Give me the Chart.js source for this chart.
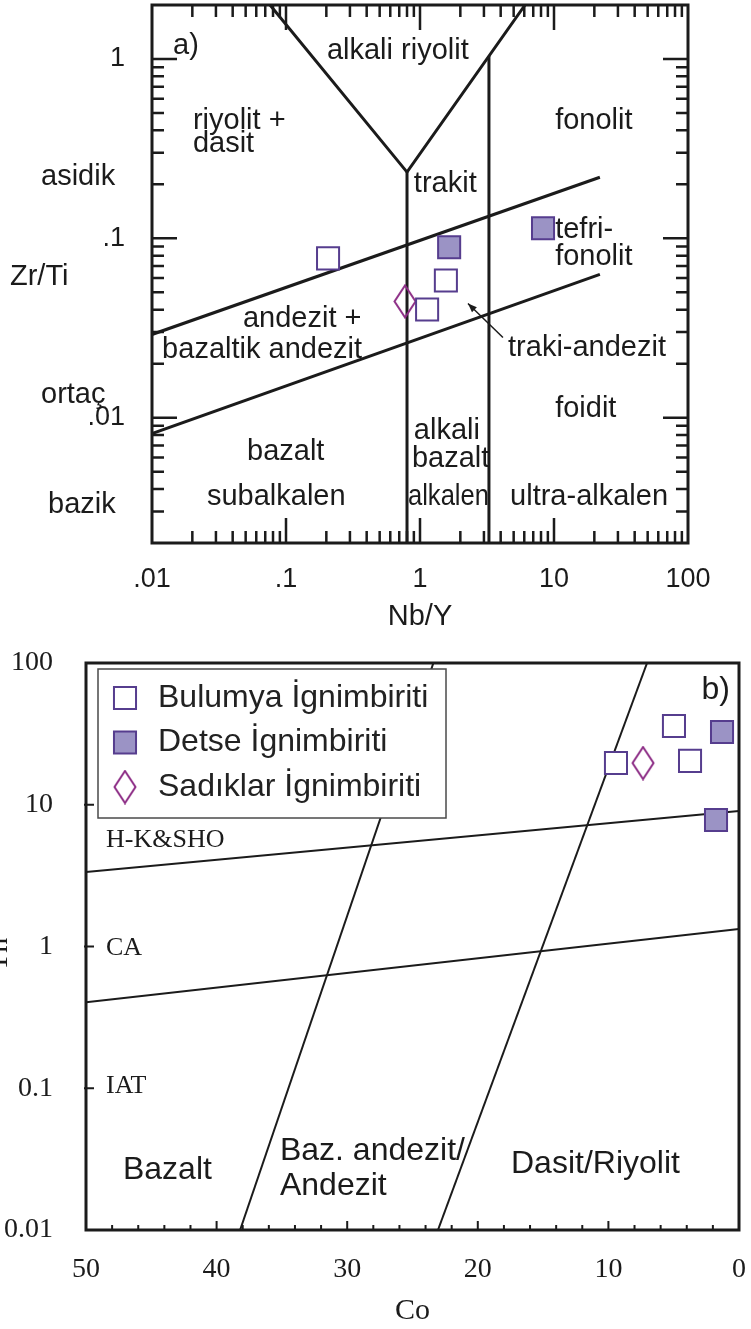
<!DOCTYPE html>
<html>
<head>
<meta charset="utf-8">
<script src="https://cdn.jsdelivr.net/npm/chart.js@4.4.1/dist/chart.umd.min.js"></script>
<style>
  html, body { margin: 0; padding: 0; background: #fff; }
  canvas { display: block; }
</style>
</head>
<body>
<canvas id="zrti" width="751" height="640"></canvas>
<canvas id="thco" width="751" height="689"></canvas>
<script>
// ---- a) Zr/Ti - Nb/Y ----
const bulumyaA  = [{x: 0.206, y: 0.0773}, {x: 1.56, y: 0.0582}, {x: 1.13, y: 0.0401}];
const detseA    = [{x: 1.65, y: 0.0891}, {x: 8.28, y: 0.1137}];
const sadiklarA = [{x: 0.773, y: 0.0445}];

// field boundaries
const vLine      = [{x: 0.076, y: 2}, {x: 0.80, y: 0.234}, {x: 6.08, y: 2}];
const alkaliLine = [{x: 0.80, y: 0.234}, {x: 0.80, y: 0.002}];
const ultraLine  = [{x: 3.27, y: 1.04}, {x: 3.27, y: 0.002}];
const upperLine  = [{x: 0.01, y: 0.0291}, {x: 22, y: 0.219}];
const lowerLine  = [{x: 0.01, y: 0.00814}, {x: 22, y: 0.0629}];

const nbyTicks  = [0.01, 0.1, 1, 10, 100];
const zrtiTicks = [0.01, 0.1, 1];

// [text, Nb/Y, Zr/Ti] left / baseline
const fieldsA = [
  ['alkali riyolit', 0.202, 1.0],
  ['riyolit +', 0.0202, 0.406],
  ['dasit', 0.0202, 0.302],
  ['fonolit', 10.2, 0.406],
  ['trakit', 0.90, 0.181],
  ['tefri-', 10.2, 0.101],
  ['fonolit', 10.2, 0.0707],
  ['andezit +', 0.0477, 0.0322],
  ['bazaltik andezit', 0.0119, 0.0214],
  ['traki-andezit', 4.54, 0.0222],
  ['foidit', 10.2, 0.01014],
  ['alkali', 0.90, 0.00763],
  ['bazalt', 0.871, 0.00532],
  ['bazalt', 0.0512, 0.00582],
  ['subalkalen', 0.0257, 0.00327],
  ['alkalen', 0.813, 0.00327, 81],
  ['ultra-alkalen', 4.70, 0.00327]
];
const sideA = [['asidik', 41, 185], ['Zr/Ti', 10, 285], ['ortaç', 41, 403], ['bazik', 48, 513]];
const arrowA = [{x: 4.16, y: 0.0280}, {x: 2.28, y: 0.0433}];

// ---- b) Th - Co ----
const bulumyaB  = [{x: 9.42, y: 19.7}, {x: 4.98, y: 35.9}, {x: 3.75, y: 20.4}];
const detseB    = [{x: 1.3, y: 32.6}, {x: 1.76, y: 7.8}];
const sadiklarB = [{x: 7.35, y: 19.7}];

const hkLine     = [{x: 50, y: 3.36}, {x: 0, y: 9.03}];
const caLine     = [{x: 50, y: 0.405}, {x: 0, y: 1.33}];
const basLine    = [{x: 38.2, y: 0.01}, {x: 23.4, y: 100}];
const daciteLine = [{x: 23.05, y: 0.01}, {x: 7.04, y: 100}];

const coTicks = [50, 40, 30, 20, 10, 0];
const thTicks = [0.01, 0.1, 1, 10, 100];

const seriesNames = ['Bulumya İgnimbiriti', 'Detse İgnimbiriti', 'Sadıklar İgnimbiriti'];
const seriesTags  = [['H-K&SHO', 48.47, 5.03], ['CA', 48.47, 0.871], ['IAT', 48.47, 0.0927]];
const fieldsB = [
  ['Bazalt', 47.17, 0.0229],
  ['Baz. andezit/', 35.15, 0.0312],
  ['Andezit', 35.15, 0.01766],
  ['Dasit/Riyolit', 17.46, 0.0252]
];

const INK = '#1b1b1b';
const PURPLE = '#563d8e';
const LILAC = '#9b93c5';
const MAGENTA = '#8c2c85';
const SANS = '"Liberation Sans", Arial, sans-serif';
const SERIF = '"Liberation Serif", "Times New Roman", serif';

// tall open diamond
function diamond() {
  const c = document.createElement('canvas');
  c.width = 24; c.height = 35;
  const g = c.getContext('2d');
  g.strokeStyle = MAGENTA; g.lineWidth = 2;
  g.beginPath();
  g.moveTo(12, 1.5); g.lineTo(22.5, 17.5); g.lineTo(12, 33.5); g.lineTo(1.5, 17.5);
  g.closePath(); g.stroke();
  return c;
}
const diamondImg = diamond();

function markerSets(bul, det, sad) {
  return [
    { label: seriesNames[0], data: bul, pointStyle: 'rect', pointRadius: 15.6,
      pointBorderWidth: 2, pointBorderColor: PURPLE, pointBackgroundColor: '#fff',
      borderColor: PURPLE, backgroundColor: '#fff', showLine: false },
    { label: seriesNames[1], data: det, pointStyle: 'rect', pointRadius: 15.6,
      pointBorderWidth: 2, pointBorderColor: PURPLE, pointBackgroundColor: LILAC,
      borderColor: PURPLE, backgroundColor: LILAC, showLine: false },
    { label: seriesNames[2], data: sad, pointStyle: diamondImg, pointRadius: 16,
      pointBorderWidth: 0, borderColor: MAGENTA, backgroundColor: 'rgba(0,0,0,0)', showLine: false }
  ];
}

function boundary(data, width) {
  return { label: '', data, showLine: true, borderColor: INK, borderWidth: width,
    pointRadius: 0, borderJoinStyle: 'miter', fill: false };
}

// fixed axis box, no extra room for end labels
function fixSize(w, h) {
  return s => {
    if (w) s.width = w;
    if (h) s.height = h;
    s.paddingTop = s.paddingBottom = s.paddingLeft = s.paddingRight = 0;
  };
}

function logSteps(min, max) {
  const out = [];
  for (let e = Math.floor(Math.log10(min)); e <= Math.ceil(Math.log10(max)); e++) {
    for (let m = 1; m <= 9; m++) {
      const v = parseFloat((m * Math.pow(10, e)).toPrecision(6));
      if (v > min * 1.0001 && v < max * 0.9999) out.push(v);
    }
  }
  return out;
}
const isDecade = v => Math.abs(Math.log10(v) - Math.round(Math.log10(v))) < 1e-6;

function text(ctx, str, x, y, font, align, maxW) {
  ctx.font = font;
  ctx.textAlign = align || 'left';
  ctx.textBaseline = 'alphabetic';
  if (maxW) ctx.fillText(str, x, y, maxW); else ctx.fillText(str, x, y);
}

const decorA = {
  id: 'decorA',
  afterDatasetsDraw(chart) {
    const { ctx, chartArea: a, scales: { x, y } } = chart;
    ctx.save();
    ctx.strokeStyle = INK;
    ctx.lineWidth = 2.5;
    ctx.beginPath();
    logSteps(x.min, x.max).forEach(v => {
      const px = x.getPixelForValue(v), len = isDecade(v) ? 25 : 12;
      ctx.moveTo(px, a.top); ctx.lineTo(px, a.top + len);
      ctx.moveTo(px, a.bottom); ctx.lineTo(px, a.bottom - len);
    });
    logSteps(y.min, y.max).forEach(v => {
      const py = y.getPixelForValue(v), len = isDecade(v) ? 25 : 12;
      ctx.moveTo(a.left, py); ctx.lineTo(a.left + len, py);
      ctx.moveTo(a.right, py); ctx.lineTo(a.right - len, py);
    });
    ctx.stroke();
    ctx.lineWidth = 3;
    ctx.strokeRect(a.left, a.top, a.right - a.left, a.bottom - a.top);

    // traki-andezit pointer
    const t0 = { x: x.getPixelForValue(arrowA[0].x), y: y.getPixelForValue(arrowA[0].y) };
    const t1 = { x: x.getPixelForValue(arrowA[1].x), y: y.getPixelForValue(arrowA[1].y) };
    const ang = Math.atan2(t1.y - t0.y, t1.x - t0.x);
    ctx.lineWidth = 1.5;
    ctx.beginPath(); ctx.moveTo(t0.x, t0.y); ctx.lineTo(t1.x, t1.y); ctx.stroke();
    ctx.fillStyle = INK;
    ctx.beginPath();
    ctx.moveTo(t1.x, t1.y);
    ctx.lineTo(t1.x - 9 * Math.cos(ang) + 3.5 * Math.sin(ang), t1.y - 9 * Math.sin(ang) - 3.5 * Math.cos(ang));
    ctx.lineTo(t1.x - 9 * Math.cos(ang) - 3.5 * Math.sin(ang), t1.y - 9 * Math.sin(ang) + 3.5 * Math.cos(ang));
    ctx.closePath(); ctx.fill();
    ctx.restore();
  },
  afterDraw(chart) {
    const { ctx, chartArea: a, scales: { x, y } } = chart;
    ctx.save();
    ctx.fillStyle = INK;
    const f = '29px ' + SANS;
    fieldsA.forEach(([s, vx, vy, mw]) => text(ctx, s, x.getPixelForValue(vx), y.getPixelForValue(vy), f, 'left', mw));
    sideA.forEach(([s, px, py]) => text(ctx, s, px, py, f));
    text(ctx, 'a)', a.left + 21, a.top + 49, f);
    ctx.restore();
  }
};

const decorB = {
  id: 'decorB',
  afterDatasetsDraw(chart) {
    const { ctx, chartArea: a, scales: { x, y } } = chart;
    ctx.save();
    ctx.strokeStyle = INK;
    ctx.lineWidth = 2;
    ctx.beginPath();
    for (let v = 2; v < 50; v += 2) {
      const px = x.getPixelForValue(v), len = v % 10 === 0 ? 9 : 5;
      ctx.moveTo(px, a.bottom); ctx.lineTo(px, a.bottom - len);
    }
    thTicks.slice(1, -1).forEach(v => {
      const py = y.getPixelForValue(v);
      ctx.moveTo(a.left - 2, py); ctx.lineTo(a.left + 8, py);
    });
    ctx.stroke();

    // legend box
    const lx = a.left + 12, ly = a.top + 6, lw = 348, lh = 149;
    ctx.fillStyle = '#fff';
    ctx.fillRect(lx, ly, lw, lh);
    ctx.strokeStyle = '#4a4a4a';
    ctx.lineWidth = 1.5;
    ctx.strokeRect(lx, ly, lw, lh);
    chart.data.datasets.filter(d => d.label).forEach((d, i) => {
      const cy = ly + 29 + i * 44.5;
      ctx.save();
      ctx.fillStyle = d.pointBackgroundColor || '#fff';
      ctx.strokeStyle = d.pointBorderColor || d.borderColor;
      ctx.lineWidth = d.pointBorderWidth;
      Chart.helpers.drawPoint(ctx, { pointStyle: d.pointStyle, radius: d.pointRadius,
        borderWidth: d.pointBorderWidth, rotation: 0 }, lx + 27, cy);
      ctx.restore();
      ctx.fillStyle = '#222';
      ctx.font = '32px ' + SANS;
      ctx.textAlign = 'left';
      ctx.textBaseline = 'middle';
      ctx.fillText(d.label, lx + 60, cy);
    });

    ctx.strokeStyle = INK;
    ctx.lineWidth = 3;
    ctx.strokeRect(a.left, a.top, a.right - a.left, a.bottom - a.top);
    ctx.restore();
  },
  afterDraw(chart) {
    const { ctx, chartArea: a, scales: { x, y } } = chart;
    ctx.save();
    ctx.fillStyle = INK;
    seriesTags.forEach(([s, vx, vy]) => text(ctx, s, x.getPixelForValue(vx), y.getPixelForValue(vy), '26px ' + SERIF));
    fieldsB.forEach(([s, vx, vy]) => text(ctx, s, x.getPixelForValue(vx), y.getPixelForValue(vy), '32px ' + SANS));
    text(ctx, 'b)', a.right - 9, a.top + 36, '32px ' + SANS, 'right');
    // y title, cut by the page edge
    ctx.translate(7, y.getPixelForValue(1) + 8);
    ctx.rotate(-Math.PI / 2);
    text(ctx, 'Th', 0, 0, '30px ' + SERIF, 'center');
    ctx.restore();
  }
};

const fmtA = v => (v >= 1 ? String(v) : String(v).slice(1));

new Chart(document.getElementById('zrti'), {
  type: 'scatter',
  data: {
    datasets: [
      ...markerSets(bulumyaA, detseA, sadiklarA),
      boundary(vLine, 3), boundary(alkaliLine, 3), boundary(ultraLine, 3),
      boundary(upperLine, 3), boundary(lowerLine, 3)
    ]
  },
  options: {
    responsive: false,
    animation: false,
    events: [],
    layout: { autoPadding: false, padding: { top: 5, right: 63, left: 0, bottom: 0 } },
    plugins: { legend: { display: false }, tooltip: { enabled: false } },
    scales: {
      x: {
        type: 'logarithmic', min: 0.01, max: 100,
        afterBuildTicks: s => { s.ticks = nbyTicks.map(v => ({ value: v })); },
        afterFit: fixSize(0, 97),
        grid: { display: false }, border: { display: false },
        ticks: { callback: fmtA, autoSkip: false, maxRotation: 0, padding: 12,
          color: INK, font: { family: SANS, size: 27 } },
        title: { display: true, text: 'Nb/Y', color: INK, font: { family: SANS, size: 29 },
          padding: { top: 0, bottom: 6 } }
      },
      y: {
        type: 'logarithmic', min: 0.002, max: 2,
        afterBuildTicks: s => { s.ticks = zrtiTicks.map(v => ({ value: v })); },
        afterFit: fixSize(152, 0),
        grid: { display: false }, border: { display: false },
        ticks: { callback: fmtA, autoSkip: false, padding: 19,
          color: INK, font: { family: SANS, size: 27 } }
      }
    }
  },
  plugins: [decorA]
});

new Chart(document.getElementById('thco'), {
  type: 'scatter',
  data: {
    datasets: [
      ...markerSets(bulumyaB, detseB, sadiklarB),
      boundary(hkLine, 2), boundary(caLine, 2), boundary(basLine, 2), boundary(daciteLine, 2)
    ]
  },
  options: {
    responsive: false,
    animation: false,
    events: [],
    layout: { autoPadding: false, padding: { top: 23, right: 12, left: 0, bottom: 0 } },
    plugins: { legend: { display: false }, tooltip: { enabled: false } },
    scales: {
      x: {
        type: 'linear', reverse: true, min: 0, max: 50,
        afterBuildTicks: s => { s.ticks = coTicks.map(v => ({ value: v })); },
        afterFit: fixSize(0, 99),
        grid: { display: false }, border: { display: false },
        ticks: { autoSkip: false, maxRotation: 0, padding: 15,
          color: INK, font: { family: SERIF, size: 28 } },
        title: { display: true, text: 'Co', color: INK, font: { family: SERIF, size: 30 },
          padding: { top: 0, bottom: 0 } }
      },
      y: {
        type: 'logarithmic', min: 0.01, max: 100,
        afterBuildTicks: s => { s.ticks = thTicks.map(v => ({ value: v })); },
        afterFit: fixSize(86, 0),
        grid: { display: false }, border: { display: false },
        ticks: { callback: v => String(v), autoSkip: false, padding: 25,
          color: INK, font: { family: SERIF, size: 28 } }
      }
    }
  },
  plugins: [decorB]
});
</script>
</body>
</html>
